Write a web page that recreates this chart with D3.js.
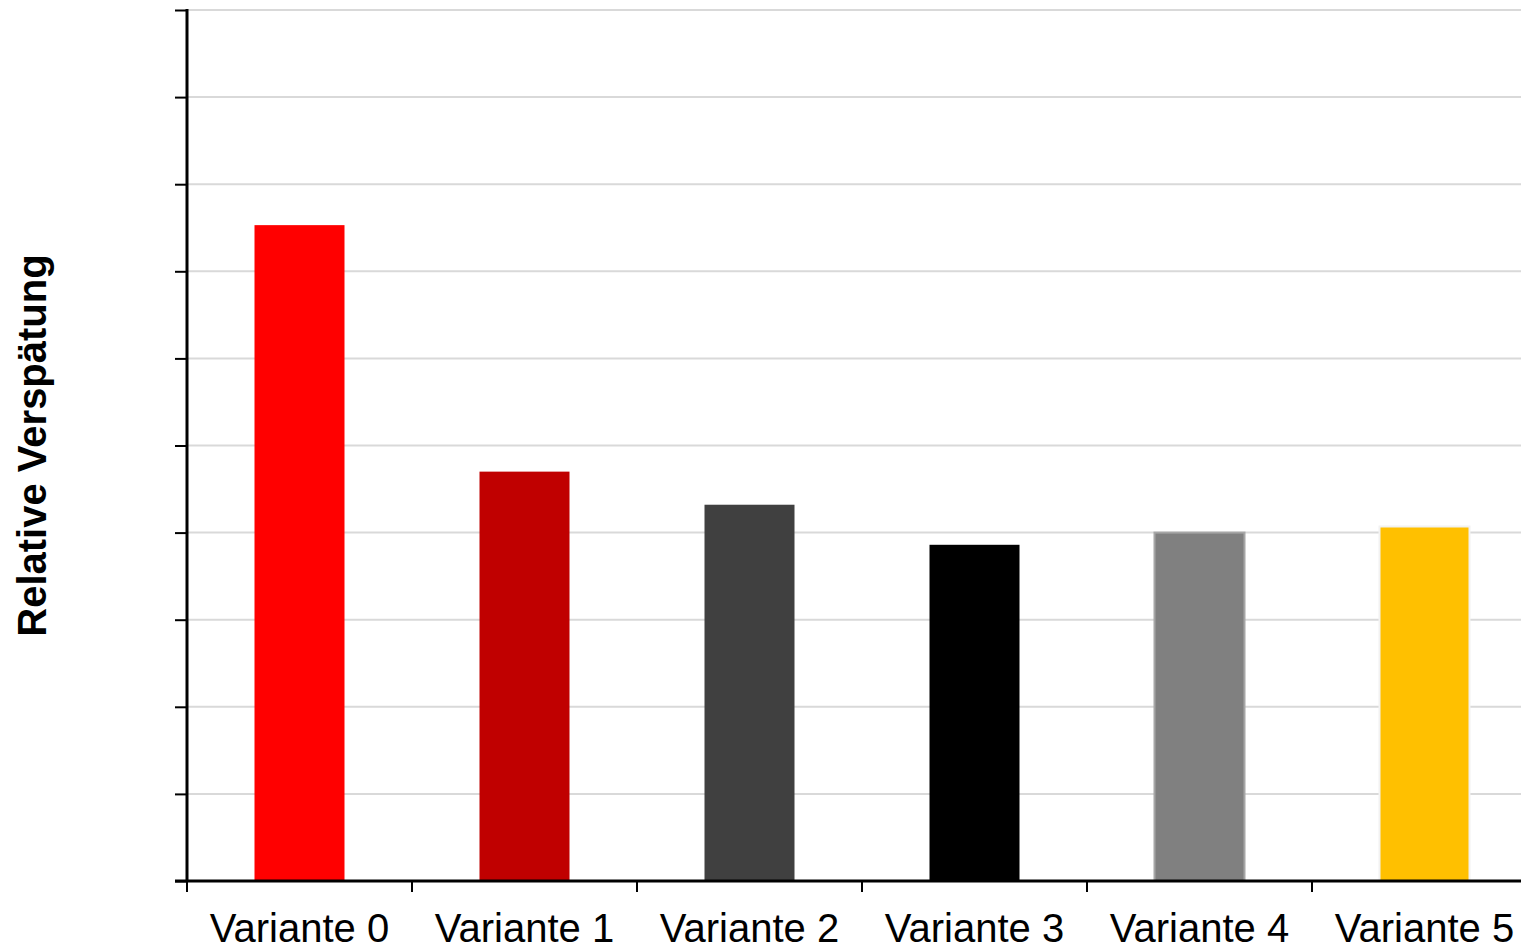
<!DOCTYPE html>
<html>
<head>
<meta charset="utf-8">
<script src="https://cdn.jsdelivr.net/npm/d3@7"></script>
<style>
  html, body { margin: 0; padding: 0; background: #ffffff; overflow: hidden; }
  svg { display: block; font-family: "Liberation Sans", Arial, sans-serif; }
</style>
</head>
<body>
<svg id="chart" width="1521" height="946"></svg>
<script>
// Categories and values of the relative delay per variant
const categories = ["Variante 0", "Variante 1", "Variante 2", "Variante 3", "Variante 4", "Variante 5"];
const values = [7.53, 4.70, 4.32, 3.86, 4.00, 4.07];
const fills = ["#ff0000", "#c00000", "#404040", "#000000", "#808080", "#ffc000"];
const strokes = ["none", "none", "none", "none", "#a6a6a6", "#f2f2f2"];
const yTicks = d3.range(0, 11);
const yLabel = "Relative Verspätung";

const W = 1521, H = 946;
const mLeft = 187, mTop = 10, mBottom = 881, plotRight = 1537;

const svg = d3.select("#chart");

const x = d3.scaleBand()
  .domain(categories)
  .range([mLeft, plotRight])
  .paddingInner(0.6)
  .paddingOuter(0.3);

const y = d3.scaleLinear().domain([0, 10]).range([mBottom, mTop]);

// horizontal gridlines
svg.append("g")
  .selectAll("line")
  .data(yTicks.slice(1))
  .join("line")
  .attr("x1", mLeft)
  .attr("x2", W)
  .attr("y1", d => y(d))
  .attr("y2", d => y(d))
  .attr("stroke", "#d9d9d9")
  .attr("stroke-width", 2);

// bars
svg.append("g")
  .selectAll("rect")
  .data(values)
  .join("rect")
  .attr("x", (d, i) => x(categories[i]))
  .attr("width", x.bandwidth())
  .attr("y", d => y(d))
  .attr("height", d => y(0) - y(d))
  .attr("fill", (d, i) => fills[i])
  .attr("stroke", (d, i) => strokes[i])
  .attr("stroke-width", 2);

// y axis without labels
const yAxis = d3.axisLeft(y).tickValues(yTicks).tickSize(12).tickFormat("");
const gy = svg.append("g").attr("transform", `translate(${mLeft},0)`).call(yAxis);
gy.select(".domain").attr("stroke", "#000").attr("stroke-width", 3).attr("d", `M0,${mTop - 1}V${mBottom}`);
gy.selectAll(".tick line").attr("stroke", "#000").attr("stroke-width", 2);

// x axis: line, ticks at category boundaries
const step = x.step();
const boundaries = d3.range(categories.length + 1).map(i => mLeft + i * step);
const gx = svg.append("g");
gx.append("line")
  .attr("x1", mLeft - 12).attr("x2", W)
  .attr("y1", mBottom).attr("y2", mBottom)
  .attr("stroke", "#000").attr("stroke-width", 3);
gx.selectAll("line.tk")
  .data(boundaries)
  .join("line")
  .attr("class", "tk")
  .attr("x1", d => d).attr("x2", d => d)
  .attr("y1", mBottom).attr("y2", mBottom + 11)
  .attr("stroke", "#000").attr("stroke-width", 2);
gx.selectAll("text")
  .data(categories)
  .join("text")
  .attr("x", d => x(d) + x.bandwidth() / 2)
  .attr("y", 942)
  .attr("text-anchor", "middle")
  .attr("font-size", 40)
  .attr("fill", "#000")
  .text(d => d);

// y axis title
svg.append("text")
  .attr("transform", `translate(46,${(mTop + mBottom) / 2}) rotate(-90)`)
  .attr("text-anchor", "middle")
  .attr("font-size", 40)
  .attr("font-weight", "bold")
  .attr("fill", "#000")
  .text(yLabel);
</script>
</body>
</html>
